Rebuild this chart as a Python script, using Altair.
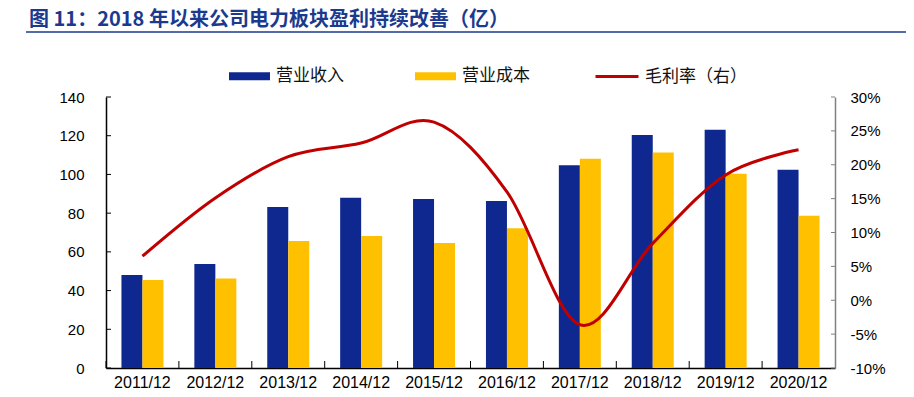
import altair as alt
import pandas as pd

# ---------------- data ----------------
categories = ["2011/12", "2012/12", "2013/12", "2014/12", "2015/12",
              "2016/12", "2017/12", "2018/12", "2019/12", "2020/12"]
revenue = [48.0, 53.7, 83.2, 87.9, 87.3, 86.3, 104.7, 120.4, 123.1, 102.4]
cost = [45.4, 46.3, 65.6, 68.2, 64.6, 72.2, 108.1, 111.3, 100.3, 78.7]
margin = [0.065, 0.151, 0.212, 0.232, 0.263, 0.160, -0.036, 0.084, 0.185, 0.222]
series_names = ["营业收入", "营业成本"]
line_name = "毛利率（右）"
left_ticks = [0, 20, 40, 60, 80, 100, 120, 140]
right_ticks = [-0.10, -0.05, 0.0, 0.05, 0.10, 0.15, 0.20, 0.25, 0.30]
TITLE = "图 11：2018 年以来公司电力板块盈利持续改善（亿）"

BLUE = "#0E288F"
YELLOW = "#FFC000"
RED = "#C00000"
TITLE_BLUE = "#1B3A8E"
LATIN = "Liberation Sans"
CJK = "Noto Sans CJK SC"

W, H = 729, 271

bar_df = pd.DataFrame({
    "cat": categories * 2,
    "series": [series_names[0]] * len(categories) + [series_names[1]] * len(categories),
    "value": revenue + cost,
})
margin_df = pd.DataFrame({"cat": categories, "margin": margin, "series": [line_name] * len(categories)})
lt_df = pd.DataFrame({"v": left_ticks})
rt_df = pd.DataFrame({"v": right_ticks})
cat_df = pd.DataFrame({"cat": categories})
title_df = pd.DataFrame({"t": [TITLE]})

x_enc = alt.X(
    "cat:N", sort=categories,
    scale=alt.Scale(paddingInner=0, paddingOuter=0),
    axis=alt.Axis(title=None, labelAngle=0, ticks=False, tickSize=0, domainColor="#000000",
                  domainWidth=1.5, labelFont=LATIN, labelFontSize=16, labelColor="#000000",
                  labelPadding=6),
)

bars = alt.Chart(bar_df).mark_bar().encode(
    x=x_enc,
    xOffset=alt.XOffset("series:N", sort=series_names,
                        scale=alt.Scale(paddingInner=0, paddingOuter=0.736)),
    y=alt.Y("value:Q",
            scale=alt.Scale(domain=[0, 140], nice=False, zero=True),
            axis=alt.Axis(orient="left", values=left_ticks, title=None, grid=False,
                          ticks=False, tickSize=0, domainColor="#000000", domainWidth=1.5,
                          labelFont=LATIN, labelFontSize=15, labelColor="#000000",
                          labelPadding=22)),
    color=alt.Color("series:N", sort=series_names,
                    scale=alt.Scale(domain=series_names, range=[BLUE, YELLOW]),
                    legend=alt.Legend(orient="none", legendX=122, legendY=-42.5,
                                      direction="horizontal", title=None,
                                      symbolType="M-1,-0.195H1V0.195H-1Z", symbolSize=1681,
                                      labelFont=CJK, labelFontSize=17, labelColor="#111111",
                                      labelOffset=5, columnPadding=70)),
)

line = alt.Chart(margin_df).mark_line(interpolate="cardinal", strokeWidth=3).encode(
    x=alt.X("cat:N", sort=categories),
    y=alt.Y("margin:Q",
            scale=alt.Scale(domain=[-0.10, 0.30], nice=False, zero=False),
            axis=alt.Axis(orient="right", values=right_ticks, title=None, grid=False,
                          ticks=False, tickSize=0, domainColor="#808080", domainWidth=1.5,
                          labelFont=LATIN, labelFontSize=15, labelColor="#000000",
                          labelPadding=15,
                          labelExpr="(datum.value < -0.0001 ? '-' : '') + format(abs(datum.value), '.0%')")),
    stroke=alt.Stroke("series:N",
                      scale=alt.Scale(domain=[line_name], range=[RED]),
                      legend=alt.Legend(orient="none", legendX=488, legendY=-43.5, title=None,
                                        symbolType="stroke", symbolSize=1849,
                                        symbolStrokeWidth=3,
                                        labelFont=CJK, labelFontSize=17, labelColor="#111111",
                                        labelOffset=5)),
)

ltick = alt.Chart(lt_df).mark_rule(color="#000000", strokeWidth=1).encode(
    x=alt.value(0), x2=alt.value(5),
    y=alt.Y("v:Q", scale=alt.Scale(domain=[0, 140], nice=False), axis=None),
)

rtick = alt.Chart(rt_df).mark_rule(color="#808080", strokeWidth=1).encode(
    x=alt.value(W - 4), x2=alt.value(W),
    y=alt.Y("v:Q", scale=alt.Scale(domain=[-0.10, 0.30], nice=False, zero=False), axis=None),
)

xtick = alt.Chart(cat_df).mark_rule(color="#000000", strokeWidth=1).encode(
    x=alt.X("cat:N", sort=categories, bandPosition=0),
    y=alt.value(H - 7), y2=alt.value(H),
)

title_text = alt.Chart(title_df).mark_text(
    align="left", baseline="middle", fontSize=20, fontWeight="bold",
    font=CJK, color=TITLE_BLUE,
).encode(x=alt.value(-77), y=alt.value(-77), text="t:N")

underline = alt.Chart(title_df).mark_rule(color=TITLE_BLUE, strokeWidth=1.5).encode(
    x=alt.value(-80), x2=alt.value(804), y=alt.value(-65),
)

chart = alt.layer(bars, line, ltick, rtick, xtick, title_text, underline).resolve_scale(
    y="independent"
).properties(
    width=W, height=H,
    padding={"left": 98, "top": 89, "right": 71, "bottom": 21},
    autosize=alt.AutoSizeParams(type="none"),
).configure_view(stroke=None)

chart.save("out.html", embed_options={"renderer": "svg", "actions": False})
